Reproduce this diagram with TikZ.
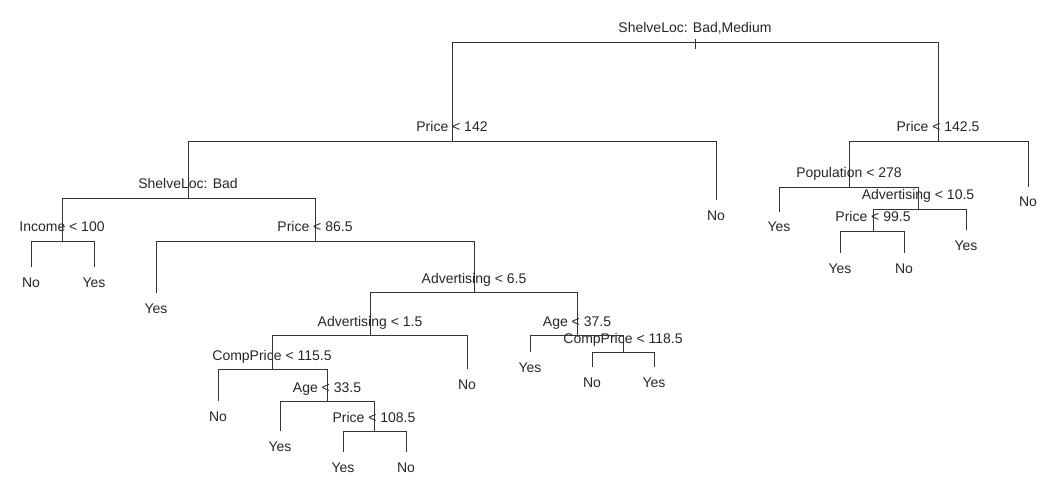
\documentclass[tikz,border=0pt]{standalone}
\usepackage{fontspec}
\setmainfont{Liberation Sans}
\usepackage{tikz}

\begin{document}
\begin{tikzpicture}[x=1pt, y=-1pt]
\tikzstyle{every node} = [inner sep=0pt, text=black!85, font=\fontsize{14}{16}\selectfont]
\tikzstyle{split} = [anchor=base, yshift=9pt]
\tikzstyle{leaf} = [anchor=base, yshift=-20pt]
\tikzstyle{edge} = [draw=black!80, line width=0.9pt]
\useasboundingbox (0, 0) rectangle (1045, 484);

\coordinate (a) at (695, 42);
\coordinate (b) at (452, 141);
\coordinate (c) at (938, 141);
\coordinate (d) at (188, 198);
\coordinate (e) at (716, 200);
\coordinate (f) at (62, 241);
\coordinate (g) at (315, 241);
\coordinate (h) at (31, 267);
\coordinate (i) at (94, 267);
\coordinate (j) at (156, 293);
\coordinate (k) at (474, 292);
\coordinate (l) at (370, 335);
\coordinate (m) at (577, 335);
\coordinate (n) at (272, 369);
\coordinate (o) at (467, 369);
\coordinate (p) at (218, 401);
\coordinate (q) at (327, 401);
\coordinate (r) at (280, 431);
\coordinate (s) at (374, 431);
\coordinate (t) at (343, 452);
\coordinate (u) at (406, 452);
\coordinate (v) at (530, 352);
\coordinate (w) at (623, 352);
\coordinate (x) at (592, 367);
\coordinate (y) at (654, 367);
\coordinate (z) at (849, 187);
\coordinate (aa) at (1028, 187);
\coordinate (ab) at (779, 212);
\coordinate (ac) at (918, 209);
\coordinate (ad) at (873, 231);
\coordinate (ae) at (966, 230);
\coordinate (af) at (840, 253);
\coordinate (ag) at (904, 253);

\node [split] (ax) at (a) {ShelveLoc: Bad,Medium};
\node [split] (bx) at (b) {Price < 142};
\node [split] (cx) at (c) {Price < 142.5};
\node [split] (dx) at (d) {ShelveLoc: Bad};
\node [leaf] (ex) at (e) {No};
\node [split] (fx) at (f) {Income < 100};
\node [split] (gx) at (g) {Price < 86.5};
\node [leaf] (hx) at (h) {No};
\node [leaf] (ix) at (i) {Yes};
\node [leaf] (jx) at (j) {Yes};
\node [split] (kx) at (k) {Advertising < 6.5};
\node [split] (lx) at (l) {Advertising < 1.5};
\node [split] (mx) at (m) {Age < 37.5};
\node [split] (nx) at (n) {CompPrice < 115.5};
\node [leaf] (ox) at (o) {No};
\node [leaf] (px) at (p) {No};
\node [split] (qx) at (q) {Age < 33.5};
\node [leaf] (rx) at (r) {Yes};
\node [split] (sx) at (s) {Price < 108.5};
\node [leaf] (tx) at (t) {Yes};
\node [leaf] (ux) at (u) {No};
\node [leaf] (vx) at (v) {Yes};
\node [split] (wx) at (w) {CompPrice < 118.5};
\node [leaf] (xx) at (x) {No};
\node [leaf] (yx) at (y) {Yes};
\node [split] (zx) at (z) {Population < 278};
\node [leaf] (aax) at (aa) {No};
\node [leaf] (abx) at (ab) {Yes};
\node [split] (acx) at (ac) {Advertising < 10.5};
\node [split] (adx) at (ad) {Price < 99.5};
\node [leaf] (aex) at (ae) {Yes};
\node [leaf] (afx) at (af) {Yes};
\node [leaf] (agx) at (ag) {No};

\draw [edge] ([yshift=3pt]a) -- ([yshift=-7pt]a);
\draw [edge] (a) -| (b);
\draw [edge] (a) -| (c);
\draw [edge] (b) -| (d);
\draw [edge] (b) -| (e);
\draw [edge] (c) -| (z);
\draw [edge] (c) -| (aa);
\draw [edge] (d) -| (f);
\draw [edge] (d) -| (g);
\draw [edge] (f) -| (h);
\draw [edge] (f) -| (i);
\draw [edge] (g) -| (j);
\draw [edge] (g) -| (k);
\draw [edge] (k) -| (l);
\draw [edge] (k) -| (m);
\draw [edge] (l) -| (n);
\draw [edge] (l) -| (o);
\draw [edge] (n) -| (p);
\draw [edge] (n) -| (q);
\draw [edge] (q) -| (r);
\draw [edge] (q) -| (s);
\draw [edge] (s) -| (t);
\draw [edge] (s) -| (u);
\draw [edge] (m) -| (v);
\draw [edge] (m) -| (w);
\draw [edge] (w) -| (x);
\draw [edge] (w) -| (y);
\draw [edge] (z) -| (ab);
\draw [edge] (z) -| (ac);
\draw [edge] (ac) -| (ad);
\draw [edge] (ac) -| (ae);
\draw [edge] (ad) -| (af);
\draw [edge] (ad) -| (ag);
\end{tikzpicture}
\end{document}
